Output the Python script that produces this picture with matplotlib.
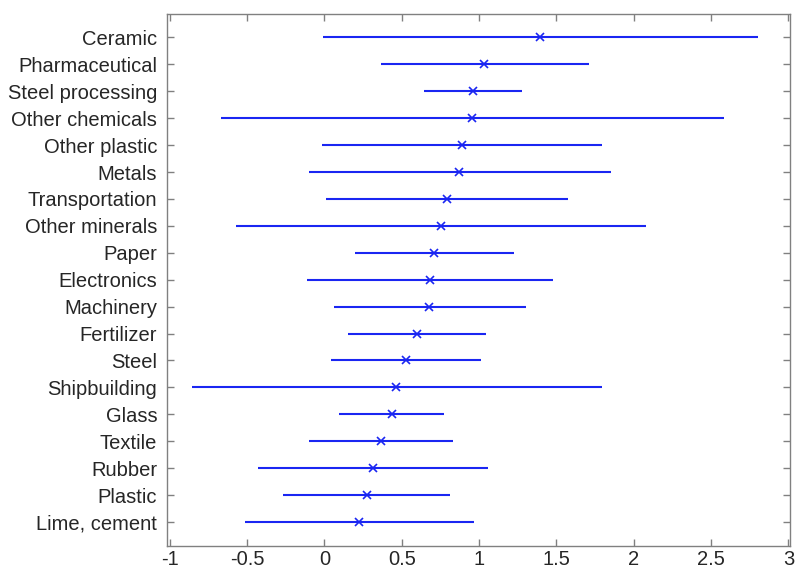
import matplotlib
matplotlib.use("Agg")
import matplotlib.pyplot as plt
import numpy as np

plt.rcParams['font.family'] = ['Liberation Sans', 'DejaVu Sans']

categories = ["Ceramic", "Pharmaceutical", "Steel processing", "Other chemicals",
              "Other plastic", "Metals", "Transportation", "Other minerals", "Paper",
              "Electronics", "Machinery", "Fertilizer", "Steel", "Shipbuilding",
              "Glass", "Textile", "Rubber", "Plastic", "Lime, cement"]
means = [1.391, 1.033, 0.960, 0.953, 0.889, 0.873, 0.792, 0.753, 0.705,
         0.684, 0.679, 0.600, 0.524, 0.464, 0.436, 0.367, 0.313, 0.274, 0.224]
lower = [-0.008, 0.367, 0.645, -0.668, -0.017, -0.103, 0.011, -0.571, 0.197,
         -0.114, 0.061, 0.155, 0.041, -0.854, 0.095, -0.097, -0.427, -0.265, -0.515]
upper = [2.801, 1.708, 1.277, 2.581, 1.796, 1.850, 1.576, 2.081, 1.223,
         1.479, 1.300, 1.046, 1.009, 1.792, 0.776, 0.830, 1.059, 0.809, 0.970]
xticks = [-1, -0.5, 0, 0.5, 1, 1.5, 2, 2.5, 3]
xticklabels = ["-1", "-0.5", "0", "0.5", "1", "1.5", "2", "2.5", "3"]

n = len(categories)
y = np.arange(n, 0, -1)

fig = plt.figure(figsize=(7.96, 5.75), dpi=100)
ax = fig.add_axes([0.2098, 0.0510, 0.7827, 0.9247])

blue = (0.1, 0.15, 0.95)
ax.hlines(y, lower, upper, color=blue, linewidth=1.5)
ax.plot(means, y, linestyle='none', marker='x', color=blue, markersize=6, markeredgewidth=1.2)

ax.set_xlim(-1.018, 3.01)
ax.set_ylim(0.12, n + 0.87)
ax.set_xticks(xticks)
ax.set_xticklabels(xticklabels)
ax.set_yticks(y)
ax.set_yticklabels(categories)

for s in ax.spines.values():
    s.set_color('#808080')
    s.set_linewidth(1.0)
ax.tick_params(direction='in', length=5, width=1.0, color='#808080',
               labelsize=14.5, labelcolor='#262626', top=True, right=True)
ax.tick_params(axis='x', pad=3)
ax.tick_params(axis='y', pad=7)

fig.savefig("out.png", dpi=100)
